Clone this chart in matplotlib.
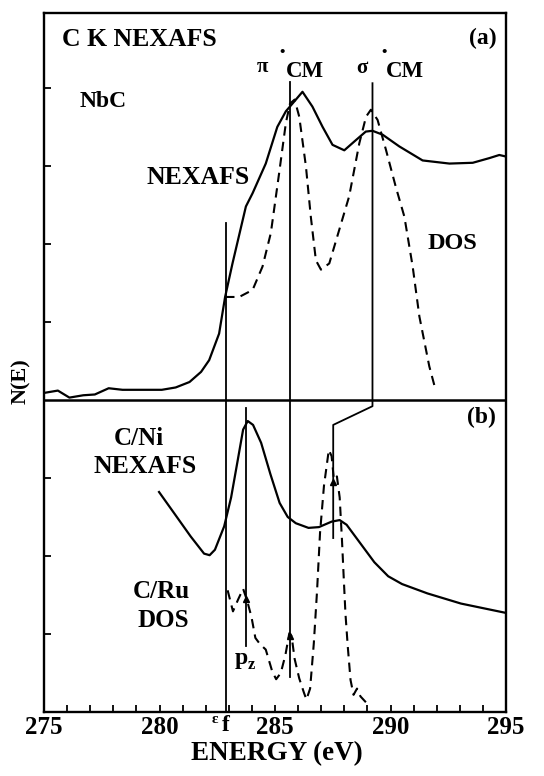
import matplotlib
matplotlib.use("Agg")
import matplotlib.pyplot as plt
from matplotlib.ticker import MultipleLocator, FixedLocator

# ---------------- data (energy in eV, N(E) in arbitrary stacked units) -------------
nbc_nexafs_E = [275.0, 275.6, 276.1, 276.7, 277.2, 277.8, 278.4, 280.1, 280.7, 281.3,
                281.8, 282.15, 282.58, 282.84, 283.16, 283.74, 284.03, 284.6, 285.1,
                285.47, 285.76, 286.19, 286.62, 287.06, 287.49, 288.0, 288.5, 288.93,
                289.22, 289.66, 290.38, 291.39, 292.55, 293.56, 294.28, 294.71, 295.0]
nbc_nexafs_N = [4.09, 4.12, 4.03, 4.06, 4.07, 4.15, 4.13, 4.13, 4.16, 4.23,
                4.36, 4.51, 4.85, 5.32, 5.75, 6.48, 6.65, 7.03, 7.50,
                7.70, 7.80, 7.95, 7.76, 7.50, 7.27, 7.20, 7.33, 7.44,
                7.45, 7.40, 7.25, 7.07, 7.03, 7.04, 7.10, 7.14, 7.12]

nbc_dos_E = [282.84, 283.45, 284.03, 284.46, 284.82, 285.18, 285.47, 285.65, 285.85,
             286.05, 286.34, 286.55, 286.77, 286.99, 287.35, 287.78, 288.21, 288.65,
             288.94, 289.15, 289.44, 289.8, 290.23, 290.6, 290.96, 291.25, 291.68, 291.95]
nbc_dos_N = [5.32, 5.32, 5.41, 5.71, 6.14, 6.91, 7.55, 7.80, 7.85,
             7.63, 6.99, 6.35, 5.79, 5.67, 5.75, 6.18, 6.61, 7.29,
             7.63, 7.72, 7.59, 7.21, 6.73, 6.35, 5.71, 5.07, 4.43, 4.13]

cni_nexafs_E = [279.98, 280.63, 281.35, 281.93, 282.17, 282.4, 282.8, 283.1, 283.4,
                283.62, 283.82, 284.05, 284.4, 284.8, 285.2, 285.55, 285.9, 286.45,
                286.9, 287.45, 287.8, 288.1, 288.65, 289.3, 289.9, 290.5, 291.6,
                293.05, 295.0]
cni_nexafs_N = [2.82, 2.55, 2.25, 2.03, 2.01, 2.08, 2.38, 2.75, 3.25,
                3.62, 3.73, 3.68, 3.45, 3.05, 2.68, 2.50, 2.42, 2.36,
                2.37, 2.44, 2.46, 2.40, 2.18, 1.92, 1.74, 1.64, 1.52,
                1.39, 1.27]

cru_dos_E = [282.95, 283.18, 283.4, 283.62, 283.8, 283.98, 284.15, 284.35, 284.6,
             284.88, 285.05, 285.25, 285.45, 285.62, 285.72, 285.85, 286.05, 286.25,
             286.36, 286.52, 286.68, 286.82, 286.95, 287.12, 287.33, 287.45, 287.55,
             287.68, 287.8, 287.9, 287.98, 288.05, 288.15, 288.27, 288.4, 288.55,
             288.7, 288.95]
cru_dos_N = [1.56, 1.29, 1.44, 1.58, 1.42, 1.22, 0.95, 0.87, 0.80,
             0.52, 0.42, 0.50, 0.73, 1.01, 0.97, 0.68, 0.43, 0.25,
             0.16, 0.30, 0.88, 1.55, 2.30, 2.90, 3.36, 3.28, 2.98,
             3.02, 2.75, 2.20, 1.69, 1.26, 0.84, 0.41, 0.22, 0.30,
             0.20, 0.12]

# marker lines: (energy, top, bottom)
ef_line = (282.88, 6.27, 0.0)
pi_line = (285.64, 8.07, 0.45)
pz_line = (283.76, 3.90, 0.84)
sigma_line_E = [289.22, 289.22, 287.52, 287.52]
sigma_line_N = [8.06, 3.92, 3.68, 2.23]
arrow_tips_E = [283.76, 285.64, 287.52]
arrow_tips_N = [1.45, 0.98, 2.95]

xticks_major = [275, 280, 285, 290, 295]
yticks = [1, 2, 3, 5, 6, 7, 8]

# ---------------- drawing ---------------------------------------------------------
FONT = "Liberation Serif"
plt.rcParams["font.family"] = [FONT, "DejaVu Serif"]
plt.rcParams["font.weight"] = "bold"

W, H = 544, 776
fig = plt.figure(figsize=(W / 100, H / 100), dpi=100)
ax = fig.add_axes([44 / W, (H - 712) / H, 462 / W, (712 - 13) / H])
ax.set_xlim(275, 295)
ax.set_ylim(0, 8.96)

for s in ax.spines.values():
    s.set_linewidth(1.7)

ax.xaxis.set_major_locator(FixedLocator(xticks_major))
ax.xaxis.set_minor_locator(MultipleLocator(1))
ax.yaxis.set_major_locator(FixedLocator(yticks))
ax.tick_params(axis="x", which="both", direction="in", length=5, width=1.3,
               top=False, pad=3, labelsize=18)
ax.tick_params(axis="y", which="both", direction="in", length=5, width=1.3,
               right=False, labelleft=False)
for lab in ax.get_xticklabels():
    lab.set_fontweight("bold")

# divider between panels
ax.axhline(4, color="k", lw=1.8)

# curves
ax.plot(nbc_nexafs_E, nbc_nexafs_N, color="k", lw=1.6)
ax.plot(nbc_dos_E, nbc_dos_N, color="k", lw=1.5, ls=(0, (4.5, 3)))
ax.plot(cni_nexafs_E, cni_nexafs_N, color="k", lw=1.6)
ax.plot(cru_dos_E, cru_dos_N, color="k", lw=1.5, ls=(0, (4.5, 3)))

# vertical marker lines
for E, top, bot in (ef_line, pi_line, pz_line):
    ax.plot([E, E], [bot, top], color="k", lw=1.3)
ax.plot(sigma_line_E, sigma_line_N, color="k", lw=1.3)
ax.plot(arrow_tips_E, arrow_tips_N, ls="none", marker="^", ms=4.5, color="k")

# text annotations
tk = dict(fontweight="bold", fontfamily=FONT, ha="center", va="center")
ax.text(275.78, 8.62, "C K NEXAFS", fontsize=18.5, **{**tk, "ha": "left"})
ax.text(294.61, 8.63, "(a)", fontsize=17, **{**tk, "ha": "right"})
ax.text(284.44, 8.27, "π", fontsize=15, **tk)
ax.text(285.3, 8.46, "•", fontsize=11, **tk)
ax.text(286.3, 8.21, "CM", fontsize=16.5, **tk)
ax.text(288.77, 8.25, "σ", fontsize=15, **tk)
ax.text(289.72, 8.46, "•", fontsize=11, **tk)
ax.text(290.63, 8.21, "CM", fontsize=16.5, **tk)
ax.text(277.55, 7.82, "NbC", fontsize=17, **tk)
ax.text(281.67, 6.85, "NEXAFS", fontsize=18.5, **tk)
ax.text(292.7, 6.0, "DOS", fontsize=17.5, **tk)

ax.text(293.92, 3.77, "(b)", fontsize=17, **tk)
ax.text(279.11, 3.51, "C/Ni", fontsize=18, **tk)
ax.text(279.37, 3.15, "NEXAFS", fontsize=18.5, **tk)
ax.text(280.06, 1.54, "C/Ru", fontsize=18, **tk)
ax.text(280.15, 1.17, "DOS", fontsize=18, **tk)
ax.text(283.55, 0.68, "p", fontsize=17, **tk)
ax.text(283.98, 0.60, "z", fontsize=12, **tk)

ax.text(282.4, -0.10, "ε", fontsize=11, clip_on=False, **tk)
ax.text(282.85, -0.17, "f", fontsize=17, clip_on=False, **tk)

fig.text(277 / W, 1 - 754 / H, "ENERGY (eV)", fontsize=19.5, **tk)
fig.text(21 / W, 1 - 381 / H, "N(E)", fontsize=16, rotation=90, **tk)

fig.savefig("out.png", dpi=100)
